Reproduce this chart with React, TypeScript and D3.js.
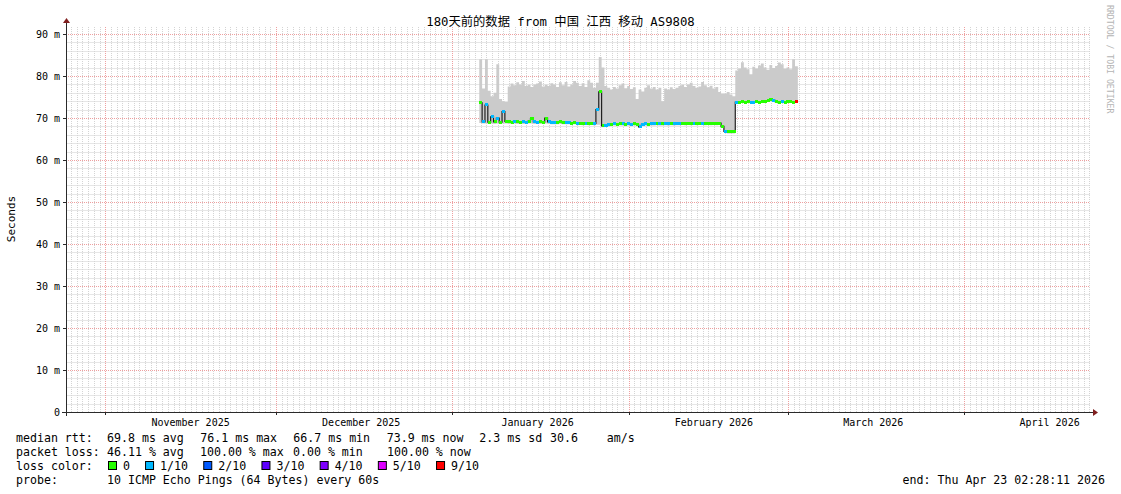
import React from "react";
import * as d3 from "d3";

// ---------- data ----------
const END_TIME = new Date(2026, 3, 23, 2, 28, 11);
const START_TIME = new Date(END_TIME.getTime() - 180 * 86400000);
const DATA_START = new Date(2026, 0, 5, 18, 0, 0);
const BIN_HOURS = 12;

const medianRtt = [
  73.6, 69.1, 73.1, 69.0, 70.3, 69.1, 70.0, 69.0, 71.5, 69.2,
  69.1, 69.0, 69.2, 69.1, 69.0, 69.1, 69.0, 69.2, 69.9, 69.1,
  69.0, 69.1, 69.0, 70.0, 69.1, 69.0, 68.9, 69.0, 69.1, 68.9,
  68.9, 69.0, 68.8, 68.9, 68.8, 68.8, 68.7, 68.8, 68.7, 68.8,
  68.7, 72.0, 76.2, 68.1, 68.2, 68.4, 68.5, 68.6, 68.5, 68.6,
  68.6, 68.5, 68.6, 68.5, 68.6, 68.5, 67.9, 68.5, 68.6, 68.5,
  68.6, 68.6, 68.7, 68.6, 68.6, 68.7, 68.6, 68.7, 68.6, 68.7,
  68.7, 68.8, 68.7, 68.8, 68.7, 68.8, 68.7, 68.8, 68.8, 68.7,
  68.8, 68.7, 68.8, 68.7, 68.8, 68.0, 66.8, 66.7, 66.7, 66.7,
  73.8, 73.8, 73.9, 73.8, 73.9, 73.8, 73.8, 73.9, 73.8, 73.9,
  74.0, 74.1, 74.4, 74.2, 73.9, 73.8, 73.9, 73.8, 73.9, 73.9,
  73.8, 73.9,
];

const smokeMax = [
  84.0, 77.0, 84.0, 76.5, 75.2, 76.0, 82.8, 74.5, 74.0, 73.8,
  77.5, 78.2, 77.8, 78.5, 78.0, 78.8, 77.6, 77.9, 77.4, 78.0,
  78.2, 78.7, 77.5, 77.9, 77.6, 78.3, 78.0, 77.4, 78.5, 77.8,
  78.6, 77.5, 78.0, 78.8, 78.4, 77.6, 78.3, 77.4, 79.0, 78.4,
  77.2, 78.4, 84.5, 82.0, 77.6, 77.2, 76.8, 77.4, 77.0, 77.8,
  78.2, 77.1, 77.6, 76.9, 77.3, 74.5, 76.8, 76.3, 77.2, 77.8,
  77.0, 77.4, 76.8, 77.2, 74.0, 77.0, 76.8, 77.3, 76.9, 77.2,
  77.6, 77.9, 77.4, 78.0, 78.4, 77.6, 77.2, 77.5, 78.6, 77.8,
  77.3, 77.7, 77.0, 77.4, 76.2, 75.8, 75.8, 76.2, 75.6, 75.2,
  81.3, 81.8, 83.3, 82.0, 81.6, 80.4, 82.2, 81.8, 82.5, 83.0,
  82.0, 81.5, 82.6, 81.9, 82.4, 83.2, 82.8, 81.7, 82.0, 81.6,
  84.0, 82.3,
];

const smokeMin = [
  68.8, 68.7, 68.7, 68.6, 68.7, 68.6, 68.7, 68.6, 68.7, 68.7,
  68.6, 68.6, 68.7, 68.6, 68.6, 68.6, 68.6, 68.7, 68.7, 68.6,
  68.6, 68.6, 68.6, 68.7, 68.6, 68.5, 68.5, 68.5, 68.6, 68.5,
  68.5, 68.5, 68.4, 68.5, 68.4, 68.4, 68.3, 68.4, 68.3, 68.4,
  68.3, 68.4, 68.4, 67.8, 67.9, 68.0, 68.1, 68.2, 68.1, 68.2,
  68.2, 68.1, 68.2, 68.1, 68.2, 68.1, 67.6, 68.1, 68.2, 68.1,
  68.2, 68.2, 68.3, 68.2, 68.2, 68.3, 68.2, 68.3, 68.2, 68.3,
  68.3, 68.4, 68.3, 68.4, 68.3, 68.4, 68.3, 68.4, 68.4, 68.3,
  68.4, 68.3, 68.4, 68.3, 68.4, 67.6, 66.4, 66.3, 66.3, 66.3,
  73.5, 73.5, 73.6, 73.5, 73.6, 73.5, 73.5, 73.6, 73.5, 73.6,
  73.7, 73.8, 74.1, 73.9, 73.6, 73.5, 73.6, 73.5, 73.6, 73.6,
  73.5, 73.6,
];

const lossLevel = [
  0, 1, 1, 0, 1, 0, 1, 0, 1, 0,
  0, 0, 1, 0, 0, 1, 1, 0, 0, 1,
  1, 0, 0, 0, 1, 1, 1, 0, 0, 0,
  1, 1, 0, 0, 1, 0, 0, 1, 0, 0,
  1, 1, 0, 0, 1, 1, 0, 1, 0, 0,
  1, 0, 1, 1, 0, 0, 1, 1, 1, 0,
  1, 1, 0, 1, 0, 1, 1, 0, 1, 1,
  1, 0, 0, 0, 0, 1, 0, 0, 1, 0,
  0, 0, 0, 0, 0, 0, 1, 0, 0, 0,
  1, 0, 0, 0, 0, 1, 1, 0, 0, 0,
  0, 0, 0, 1, 0, 0, 1, 0, 0, 0,
  0, 9,
];

const yTickValues = [0, 10, 20, 30, 40, 50, 60, 70, 80, 90];
const yTickLabels = ["0", "10 m", "20 m", "30 m", "40 m", "50 m", "60 m", "70 m", "80 m", "90 m"];
const monthLabels = ["November 2025", "December 2025", "January 2026", "February 2026", "March 2026", "April 2026"];

const titleText = "180天前的数据 from 中国 江西 移动 AS9808";
const yAxisTitle = "Seconds";
const watermark = "RRDTOOL / TOBI OETIKER";

const lossKeys = [0, 1, 2, 3, 4, 5, 9];
const lossLabels = ["0", "1/10", "2/10", "3/10", "4/10", "5/10", "9/10"];
const lossColors = ["#26ff00", "#00b8ff", "#0059ff", "#5e00ff", "#7e00ff", "#dd00ff", "#ff0000"];

const rttParts = ["median rtt:", "69.8 ms avg", "76.1 ms max", "66.7 ms min", "73.9 ms now", "2.3 ms sd", "30.6", "am/s"];
const rttPartX = [16, 107, 200.3, 293.3, 386.7, 479.3, 550, 606.7];
const lossParts = ["packet loss:", "46.11 % avg", "100.00 % max", "0.00 % min", "100.00 % now"];
const lossPartX = [16, 107, 200, 293, 387];
const lossColorTitle = "loss color:";
const probeParts = ["probe:", "10 ICMP Echo Pings (64 Bytes) every 60s"];
const endText = "end: Thu Apr 23 02:28:11 2026";

// ---------- layout ----------
const W = 1121;
const H = 494;
const PL = 66;
const PR = 1090;
const PB = 412;
const PT = 26;
const MONO = "'DejaVu Sans Mono', 'Noto Sans CJK SC', monospace";

export default function App() {
  const x = d3.scaleTime().domain([START_TIME, END_TIME]).range([PL, PR]);
  const y = d3.scaleLinear().domain([0, 90]).range([PB, 34]);
  const yTopVal = y.invert(PT);

  const binTime = (i: number) => d3.timeHour.offset(DATA_START, i * BIN_HOURS);
  const n = medianRtt.length;
  const pts = d3.range(n + 1).map((i) => {
    const k = Math.min(i, n - 1);
    return { t: binTime(i), med: medianRtt[k], lo: smokeMin[k], hi: smokeMax[k] };
  });

  const smokeArea = d3
    .area<any>()
    .curve(d3.curveStepAfter)
    .x((d) => x(d.t))
    .y0((d) => y(d.lo))
    .y1((d) => y(d.hi))(pts) as string;

  const medLine = d3
    .line<any>()
    .curve(d3.curveStepAfter)
    .x((d) => x(d.t))
    .y((d) => y(d.med))(pts) as string;

  const days = d3.timeDay.range(d3.timeDay.ceil(START_TIME), END_TIME);
  const months = d3.timeMonth.range(d3.timeMonth.ceil(START_TIME), END_TIME);
  const monthSet = new Set(months.map((m) => m.getTime()));
  const minorDays = days.filter((d) => !monthSet.has(d.getTime()));

  const minorY = d3.range(2, yTopVal, 2).filter((v) => Math.round(v) % 10 !== 0);

  const colorFor = (lvl: number) => lossColors[lossKeys.indexOf(lvl)];

  // loss legend positions
  let lx = 108;
  const lossItems = lossLabels.map((lab, i) => {
    const item = { bx: lx, tx: lx + 15, label: lab, color: lossColors[i] };
    lx = lx + 30 + lab.length * 7.05;
    return item;
  });

  const gridMinorH = "#e6e6e6";
  const gridMinorV = "#d4d4d4";
  const gridMajor = "rgb(238,160,160)";

  const hPath = (vals: number[]) =>
    vals.map((v) => `M${PL},${Math.round(y(v)) + 0.5}H${PR}`).join("");
  const vPath = (ds: Date[]) =>
    ds.map((d) => `M${Math.round(x(d)) + 0.5},${PB}V${PT}`).join("");

  return (
    <svg
      width={W}
      height={H}
      viewBox={`0 0 ${W} ${H}`}
      style={{ position: "absolute", left: 0, top: 0, background: "#ffffff" }}
      fontFamily={MONO}
    >
      <rect x={0} y={0} width={W} height={H} fill="#ffffff" />

      {/* minor grid */}
      <path d={hPath(minorY)} stroke={gridMinorH} strokeWidth={1} fill="none" shapeRendering="crispEdges" />
      <path d={vPath(minorDays)} stroke={gridMinorV} strokeWidth={1} strokeDasharray="1 1" fill="none" shapeRendering="crispEdges" />
      {/* major grid */}
      <path d={hPath(yTickValues.filter((v) => v > 0))} stroke={gridMajor} strokeWidth={1} strokeDasharray="1 1" fill="none" shapeRendering="crispEdges" />
      <path d={vPath(months)} stroke={gridMajor} strokeWidth={1} strokeDasharray="1 1" fill="none" shapeRendering="crispEdges" />

      {/* smoke */}
      <path d={smokeArea} fill="#cbcbcb" stroke="none" />

      {/* median line */}
      <path d={medLine} fill="none" stroke="#202020" strokeWidth={1.2} />

      {/* loss colored bands */}
      <g shapeRendering="crispEdges">
        {medianRtt.map((m, i) => {
          const x0 = x(binTime(i));
          const x1 = x(binTime(i + 1));
          return (
            <rect
              key={"b" + i}
              x={x0}
              width={x1 - x0 + 0.3}
              y={y(m) - 1.5}
              height={3}
              fill={colorFor(lossLevel[i])}
            />
          );
        })}
      </g>

      {/* axes */}
      <g stroke="#2a2a2a" strokeWidth={1} shapeRendering="crispEdges">
        <line x1={PL - 4} x2={PR + 3} y1={PB + 0.5} y2={PB + 0.5} />
        <line x1={PL + 0.5} x2={PL + 0.5} y1={PB + 4} y2={PT - 3} />
        {yTickValues.map((v) => (
          <line key={"yt" + v} x1={PL - 3} x2={PL} y1={Math.round(y(v)) + 0.5} y2={Math.round(y(v)) + 0.5} />
        ))}
        {months.map((m) => (
          <line key={"xt" + m.getTime()} x1={Math.round(x(m)) + 0.5} x2={Math.round(x(m)) + 0.5} y1={PB} y2={PB + 3} />
        ))}
      </g>
      <path d={`M${PR + 3},${PB - 3} L${PR + 8},${PB + 0.5} L${PR + 3},${PB + 4} Z`} fill="#801f1f" />
      <path d={`M${PL - 3},${PT - 3} L${PL + 0.5},${PT - 8} L${PL + 4},${PT - 3} Z`} fill="#801f1f" />

      {/* y tick labels */}
      <g fontSize={10} fill="#000" textAnchor="end">
        {yTickValues.map((v, i) => (
          <text key={"yl" + v} x={60} y={y(v)} dy="0.35em" style={{ whiteSpace: "pre" }}>
            {yTickLabels[i]}
          </text>
        ))}
      </g>

      {/* x month labels */}
      <g fontSize={10} fill="#000" textAnchor="middle">
        {months.map((m, i) => (
          <text key={"xl" + i} x={x(d3.timeHour.offset(m, 15 * 24))} y={426}>
            {monthLabels[i]}
          </text>
        ))}
      </g>

      {/* title */}
      <text x={W / 2} y={25.5} textAnchor="middle" fontSize={12.3} fill="#000">
        {titleText}
      </text>

      {/* y axis title */}
      <text
        transform={`translate(15,219) rotate(-90)`}
        textAnchor="middle"
        fontSize={11}
        fill="#000"
      >
        {yAxisTitle}
      </text>

      {/* watermark */}
      <text
        transform={`translate(1107,5) rotate(90)`}
        textAnchor="start"
        fontSize={8.2}
        fill="#b4b4b4"
      >
        {watermark}
      </text>

      {/* legend */}
      <g fontSize={11.6} fill="#000" style={{ whiteSpace: "pre" }}>
        {rttParts.map((p, i) => (
          <text key={"r" + i} x={rttPartX[i]} y={442}>{p}</text>
        ))}
        {lossParts.map((p, i) => (
          <text key={"l" + i} x={lossPartX[i]} y={456}>{p}</text>
        ))}
        <text x={16} y={470}>{lossColorTitle}</text>
        {lossItems.map((it, i) => (
          <g key={"li" + i}>
            <rect x={it.bx + 0.5} y={461.5} width={8} height={8} fill={it.color} stroke="#000" strokeWidth={1} />
            <text x={it.tx} y={470}>{it.label}</text>
          </g>
        ))}
        <text x={16} y={484}>{probeParts[0]}</text>
        <text x={107} y={484}>{probeParts[1]}</text>
        <text x={1105} y={484} textAnchor="end">{endText}</text>
      </g>
    </svg>
  );
}
